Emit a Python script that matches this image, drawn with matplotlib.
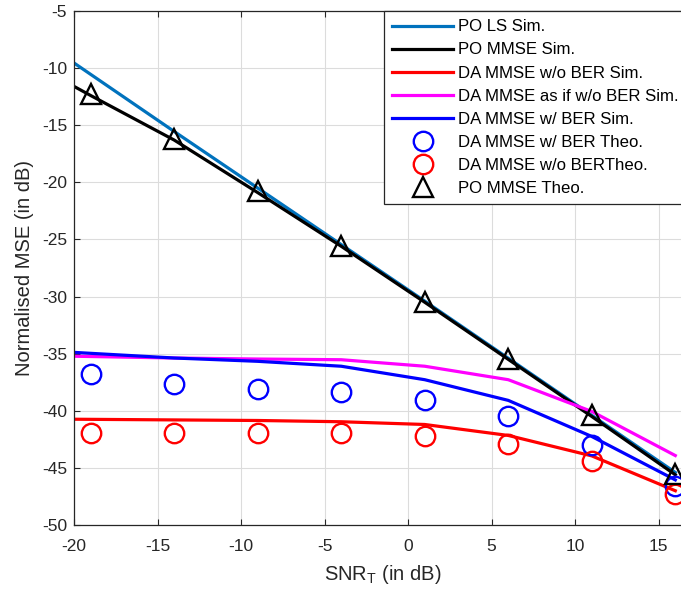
import matplotlib
matplotlib.use("Agg")
import matplotlib.pyplot as plt
import numpy as np

plt.rcParams['font.family'] = ['Liberation Sans', 'DejaVu Sans']
plt.rcParams['axes.unicode_minus'] = False
plt.rcParams['mathtext.fontset'] = 'custom'
plt.rcParams['mathtext.rm'] = 'Liberation Sans'

# simulated curves (first point lies left of the visible range)
snr_sim = [-24, -19, -14, -9, -4, 1, 6, 11, 16]
po_ls_sim = [-5.55, -10.55, -15.55, -20.5, -25.45, -30.4, -35.4, -40.4, -45.4]
po_mmse_sim = [-8.4, -12.4, -16.3, -20.9, -25.6, -30.5, -35.5, -40.5, -45.6]
da_wo_ber_sim = [-40.7, -40.75, -40.8, -40.85, -40.96, -41.2, -42.16, -43.95, -47.0]
da_asif_sim = [-35.13, -35.25, -35.38, -35.47, -35.53, -36.1, -37.28, -40.06, -43.92]
da_w_ber_sim = [-34.55, -34.97, -35.38, -35.67, -36.1, -37.28, -39.09, -42.25, -46.05]

# theoretical points
snr_theo = [-19, -14, -9, -4, 1, 6, 11, 16]
da_w_ber_theo = [-36.75, -37.63, -38.13, -38.36, -39.06, -40.44, -42.98, -46.6]
da_wo_ber_theo = [-41.96, -41.96, -41.96, -41.96, -42.22, -42.87, -44.39, -47.28]
po_mmse_theo = [-12.3, -16.2, -20.8, -25.6, -30.5, -35.5, -40.4, -45.5]

fig = plt.figure(figsize=(6.81, 5.90), dpi=100)
ax = fig.add_axes([74/681, 1-525/590, (692-74)/681, (525-11)/590])

lw = 2.3
ax.plot(snr_sim, po_ls_sim, color='#0072BD', lw=lw, label='PO LS Sim.')
ax.plot(snr_sim, po_mmse_sim, color='black', lw=lw, label='PO MMSE Sim.')
ax.plot(snr_sim, da_wo_ber_sim, color='#FF0000', lw=lw, label='DA MMSE w/o BER Sim.')
ax.plot(snr_sim, da_asif_sim, color='#FF00FF', lw=lw, label='DA MMSE as if w/o BER Sim.')
ax.plot(snr_sim, da_w_ber_sim, color='#0000FF', lw=lw, label='DA MMSE w/ BER Sim.')
ax.plot(snr_theo, da_w_ber_theo, ls='none', marker='o', ms=14, mfc='none',
        mec='#0000FF', mew=1.7, label='DA MMSE w/ BER Theo.')
ax.plot(snr_theo, da_wo_ber_theo, ls='none', marker='o', ms=14, mfc='none',
        mec='#FF0000', mew=1.7, label='DA MMSE w/o BERTheo.')
ax.plot(snr_theo, po_mmse_theo, ls='none', marker='^', ms=15, mfc='none',
        mec='black', mew=1.7, label='PO MMSE Theo.')

ax.set_xlim(-20, 17)
ax.set_ylim(-50, -5)
ax.set_xticks(np.arange(-20, 16, 5))
ax.set_yticks(np.arange(-50, -4, 5))
ax.grid(True, color='#dcdcdc', lw=0.8)
ax.set_axisbelow(True)
ax.tick_params(direction='in', length=4, labelsize=12.5, top=True, right=True,
               colors='#262626')
ax.tick_params(axis='x', pad=10)
ax.tick_params(axis='y', pad=5)
for s in ax.spines.values():
    s.set_color('#262626')
    s.set_linewidth(0.9)

ax.set_xlabel('SNR$_\\mathregular{T}$ (in dB)', fontsize=14.5, color='#262626')
ax.set_ylabel('Normalised MSE (in dB)', fontsize=14.5, color='#262626')
ax.xaxis.set_label_coords(0.5, -0.074)
ax.yaxis.set_label_coords(-0.065, 0.5)

leg = ax.legend(loc='upper left', bbox_to_anchor=(384/681, 1-11/590),
                bbox_transform=fig.transFigure, fontsize=12.1, frameon=True,
                fancybox=False, edgecolor='#262626', framealpha=1,
                handlelength=3.6, handletextpad=0.3, labelspacing=0.48,
                borderpad=0.5, borderaxespad=0)
leg.get_frame().set_linewidth(0.9)

fig.savefig('out.png', dpi=100)
